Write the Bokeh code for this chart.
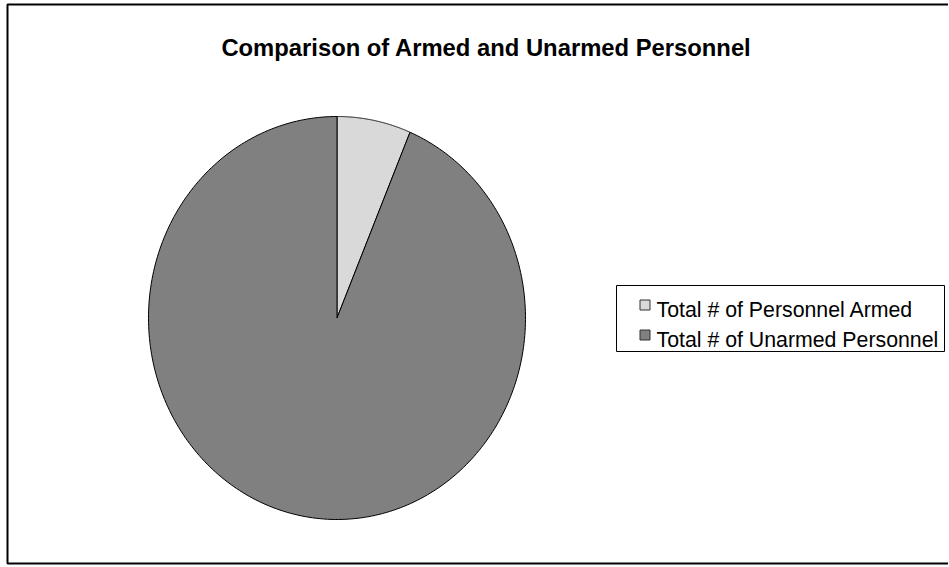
import numpy as np
from bokeh.plotting import figure
from bokeh.models import Range1d, ColumnDataSource, Label
from bokeh.embed import file_html
from bokeh.resources import INLINE
from bokeh.core.properties import value

# ---- data ----
title_text = "Comparison of Armed and Unarmed Personnel"
categories = ["Total # of Personnel Armed", "Total # of Unarmed Personnel"]
counts = [38, 562]
colors = ["#D9D9D9", "#808080"]

# ---- geometry (pixels in plot space) ----
W, H = 948, 566
CX, CY = 336.5, 317.5
RX, RY = 188.5, 201.5
X0 = -CX / RX
X1 = (W - CX) / RX
Y1 = CY / RY
Y0 = -(H - CY) / RY


def dx(px):
    return X0 + px / RX


def dy(py):
    return Y1 - py / RY


p = figure(width=W, height=H, x_range=Range1d(X0, X1), y_range=Range1d(Y0, Y1),
           output_backend="svg", toolbar_location=None, tools="",
           x_axis_location=None, y_axis_location=None, min_border=0)
p.grid.visible = False
p.outline_line_color = None
p.background_fill_color = "white"
p.border_fill_color = "white"

# ---- chart-area border ----
p.quad(left=[dx(7)], right=[dx(990)], top=[dy(4)], bottom=[dy(563)],
       fill_color=None, line_color="black", line_width=2)

# ---- pie slices (clockwise from 12 o'clock) ----
total = float(sum(counts))
fr = np.cumsum([0] + counts) / total
xs, ys = [], []
for i in range(len(counts)):
    a = np.pi / 2 - 2 * np.pi * np.linspace(fr[i], fr[i + 1], 300)
    xs.append(np.concatenate([[0.0], np.cos(a), [0.0]]).tolist())
    ys.append(np.concatenate([[0.0], np.sin(a), [0.0]]).tolist())
src = ColumnDataSource(dict(xs=xs, ys=ys, color=colors, label=categories))
p.patches("xs", "ys", source=src, fill_color="color", line_color="black", line_width=1)

# ---- title ----
p.add_layout(Label(x=dx(486), y=dy(47), text=title_text, text_align="center",
                   text_baseline="alphabetic", text_font="Liberation Sans",
                   text_font_style="bold", text_font_size="23.8px", text_color="black"))

# ---- legend ----
p.quad(left=[dx(616)], right=[dx(944)], top=[dy(285)], bottom=[dy(351)],
       fill_color="white", line_color="black", line_width=1)
row_py = [304.5, 334.5]
p.scatter(x=[dx(644.5)] * len(categories), y=[dy(v) for v in row_py], marker="square",
          size=10, fill_color=colors, line_color="#333333", line_width=1)
p.text(x=[dx(656)] * len(categories), y=[dy(v + 4.5) for v in row_py], text=categories,
       text_align="left", text_baseline="alphabetic", text_font=value("Liberation Sans"),
       text_font_size="21.3px", text_color="black")

open("out.html", "w").write(file_html(p, INLINE))
